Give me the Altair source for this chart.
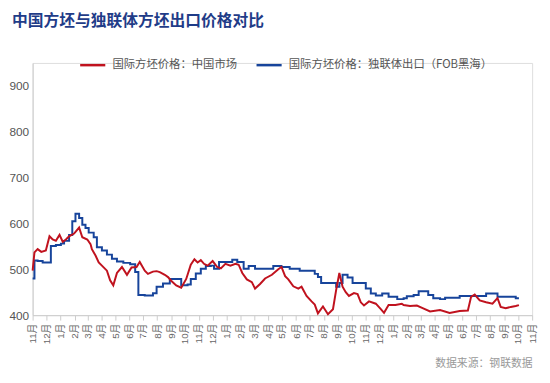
import altair as alt
import pandas as pd

# 国际方坯价格：中国市场
cn_dates = ["2022-11-01","2022-11-05","2022-11-12","2022-11-20","2022-11-30","2022-12-08","2022-12-15","2022-12-22","2022-12-30",
            "2023-01-06","2023-01-13","2023-01-20","2023-01-31","2023-02-11","2023-02-18","2023-03-01","2023-03-08","2023-03-11",
            "2023-03-19","2023-03-26","2023-04-02","2023-04-13","2023-04-20","2023-04-27","2023-05-05","2023-05-16","2023-05-27",
            "2023-06-06","2023-06-17","2023-06-24","2023-07-05","2023-07-12","2023-07-23","2023-07-31","2023-08-07","2023-08-18",
            "2023-08-25","2023-09-01","2023-09-12","2023-09-23","2023-10-04","2023-10-14","2023-10-22","2023-10-29","2023-11-05",
            "2023-11-12","2023-11-20","2023-12-01","2023-12-11","2023-12-19","2023-12-29","2024-01-09","2024-01-20","2024-01-27",
            "2024-02-04","2024-02-14","2024-02-25","2024-03-03","2024-03-14","2024-03-25","2024-04-09","2024-04-23","2024-04-30",
            "2024-05-08","2024-05-15","2024-05-26","2024-06-06","2024-06-13","2024-06-24","2024-07-05","2024-07-12","2024-07-19",
            "2024-07-30","2024-08-10","2024-08-21","2024-08-28","2024-09-04","2024-09-11","2024-09-18","2024-09-25","2024-10-06",
            "2024-10-14","2024-10-21","2024-10-28","2024-11-08","2024-11-23","2024-12-04","2024-12-11","2024-12-21","2025-01-05",
            "2025-01-19","2025-01-23","2025-02-06","2025-02-21","2025-03-07","2025-03-22","2025-04-13","2025-05-04","2025-05-26",
            "2025-06-13","2025-06-20","2025-06-28","2025-07-09","2025-07-23","2025-08-06","2025-08-17","2025-08-24","2025-09-04",
            "2025-09-15","2025-09-26","2025-10-03"]
cn_values = [497,537,544,538,541,572,565,562,575,
             560,565,572,578,591,570,565,555,544,
             530,515,508,497,476,465,492,505,488,
             504,505,516,497,490,495,496,494,488,
             483,475,465,460,479,510,522,515,520,
             512,508,518,505,502,512,508,512,510,
             492,478,472,458,468,480,488,500,505,
             485,478,463,458,462,442,430,423,404,
             419,402,413,455,492,462,450,442,448,
             446,428,421,430,425,413,405,422,422,
             425,422,420,421,415,408,411,405,409,
             410,440,445,432,428,425,437,418,415,
             418,420,422]

# 国际方坯价格：独联体出口（FOB黑海）
cis_dates = ["2022-11-01","2022-11-05","2022-11-12","2022-11-23","2022-12-04","2022-12-11","2022-12-22","2023-01-02","2023-01-09",
             "2023-01-20","2023-01-27","2023-02-03","2023-02-11","2023-02-18","2023-02-25","2023-03-04","2023-03-15","2023-03-22",
             "2023-04-02","2023-04-13","2023-04-24","2023-05-05","2023-05-19","2023-06-03","2023-06-14","2023-06-21","2023-07-05",
             "2023-07-16","2023-07-23","2023-07-31","2023-08-14","2023-08-29","2023-09-12","2023-09-23","2023-10-07","2023-10-14",
             "2023-10-25","2023-11-05","2023-11-16","2023-11-27","2023-12-04","2023-12-15","2023-12-29","2024-01-13","2024-01-24",
             "2024-02-07","2024-02-18","2024-03-03","2024-03-25","2024-04-12","2024-04-27","2024-04-30","2024-05-18","2024-06-09",
             "2024-07-01","2024-07-12","2024-07-19","2024-07-26","2024-08-13","2024-08-28","2024-09-04","2024-09-11","2024-09-22",
             "2024-10-03","2024-10-21","2024-11-01","2024-11-12","2024-11-23","2024-12-07","2024-12-21","2025-01-09","2025-01-23",
             "2025-01-30","2025-02-14","2025-02-25","2025-03-11","2025-03-18","2025-03-29","2025-04-13","2025-04-24","2025-05-12",
             "2025-05-26","2025-06-24","2025-07-16","2025-07-23","2025-08-10","2025-08-17","2025-09-11","2025-09-26","2025-10-03"]
cis_values = [480,519,518,515,515,551,553,556,562,
              575,605,621,612,597,590,580,570,548,
              541,532,523,517,514,511,494,444,443,
              443,448,462,469,479,479,465,467,479,
              491,501,507,508,501,516,516,521,516,
              501,507,501,501,507,507,505,501,497,
              497,490,483,470,470,462,470,488,482,
              470,470,458,447,443,447,440,435,437,
              441,444,452,452,444,437,435,438,438,
              442,442,442,447,447,440,440,437,437]

series_cn = "国际方坯价格：中国市场"
series_cis = "国际方坯价格：独联体出口（FOB黑海）"

df = pd.concat([
    pd.DataFrame({"date": cn_dates, "price": cn_values, "series": series_cn}),
    pd.DataFrame({"date": cis_dates, "price": cis_values, "series": series_cis}),
])

color_scale = alt.Scale(domain=[series_cn, series_cis], range=["#C0121E", "#17449B"])

x_enc = alt.X(
    "date:T",
    scale=alt.Scale(domain=["2022-11-01", "2025-11-01"], nice=False),
    axis=alt.Axis(
        format="%-m月",
        tickCount=alt.TimeIntervalStep(interval="month", step=1),
        labelAngle=270,
        labelFontSize=10,
        labelColor="#666666",
        labelFont="Liberation Sans, Noto Sans CJK SC",
        labelPadding=3,
        labelOverlap=False,
        tickSize=5,
        tickColor="#cccccc",
        domainColor="#cccccc",
        grid=False,
        title="数据来源：钢联数据",
        titleColor="#999999",
        titleFont="Noto Sans CJK SC",
        titleFontSize=11,
        titleFontWeight="normal",
        titleAnchor="end",
        titleAlign="right",
        titleBaseline="middle",
        titleY=49,
    ),
)
y_enc = alt.Y(
    "price:Q",
    scale=alt.Scale(domain=[400, 950], nice=False, zero=False),
    axis=alt.Axis(
        values=[400, 500, 600, 700, 800, 900],
        labelFontSize=12,
        labelColor="#555555",
        labelFont="Liberation Sans",
        labelPadding=4,
        ticks=False,
        domainColor="#cccccc",
        grid=False,
        title=None,
    ),
)
color_enc = alt.Color(
    "series:N",
    scale=color_scale,
    legend=alt.Legend(
        title=None,
        orient="none",
        legendX=47,
        legendY=-12,
        direction="horizontal",
        symbolType="stroke",
        symbolSize=650,
        symbolStrokeWidth=2.5,
        labelFont="Noto Sans CJK SC",
        labelFontSize=11.5,
        labelColor="#555555",
        labelLimit=400,
        labelOffset=6,
        columnPadding=14,
    ),
)

cn_line = alt.Chart(df).transform_filter(alt.datum.series == series_cn).mark_line(
    strokeWidth=2, interpolate="linear"
).encode(x=x_enc, y=y_enc, color=color_enc)

cis_line = alt.Chart(df).transform_filter(alt.datum.series == series_cis).mark_line(
    strokeWidth=2, interpolate="step-after"
).encode(x=x_enc, y=y_enc, color=color_enc)

chart = alt.layer(cis_line, cn_line).properties(
    width=507,
    height=256,
    autosize=alt.AutoSizeParams(type="none"),
    padding={"left": 25, "top": 53, "right": 10, "bottom": 60},
    title=alt.Title(
        "中国方坯与独联体方坯出口价格对比",
        anchor="start",
        frame="group",
        font="Noto Sans CJK SC",
        fontSize=16,
        fontWeight="bold",
        color="#1F3C88",
        dx=-21,
        offset=22,
    ),
).configure_view(stroke=None).configure(background="white")

chart.save("out.html", embed_options={"renderer": "svg", "actions": False})
